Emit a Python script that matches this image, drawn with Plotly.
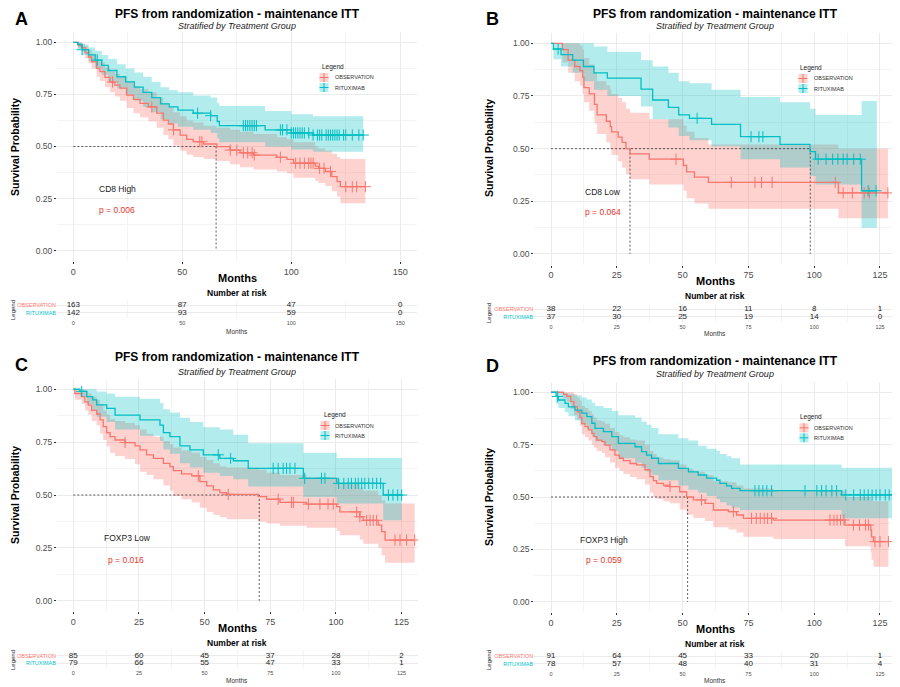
import plotly.graph_objects as go

################################################################################
# Data
################################################################################

groups = ['OBSERVATION', 'RITUXIMAB']

# Panel A - CD8 High
a_obs_t = [0, 2.3, 3.8, 5.4, 6.9, 8.4, 10.7, 12.2, 14.5, 16.8, 19.1, 21.4, 24.5, 27.6, 30.6, 34.4, 38.3, 41.3, 43.6, 45.9,
           49.0, 52.0, 55.0, 59.7, 65.8, 71.9, 76.5, 82.7, 93.4, 98.0, 101.0, 111.0, 112.5, 115.6, 118.6, 121.0, 122.5]
a_obs_s = [1.0, 0.985, 0.975, 0.950, 0.930, 0.907, 0.875, 0.860, 0.832, 0.810, 0.795, 0.780, 0.747, 0.726, 0.707, 0.690, 0.660, 0.627, 0.608, 0.580,
           0.555, 0.534, 0.523, 0.512, 0.499, 0.483, 0.470, 0.459, 0.448, 0.438, 0.420, 0.406, 0.395, 0.380, 0.355, 0.331, 0.307]
a_obs_lo = [1.0, 0.97, 0.955, 0.925, 0.90, 0.875, 0.835, 0.815, 0.785, 0.76, 0.74, 0.72, 0.685, 0.66, 0.64, 0.62, 0.59, 0.555, 0.535, 0.505,
            0.48, 0.46, 0.45, 0.44, 0.43, 0.415, 0.40, 0.39, 0.38, 0.37, 0.35, 0.335, 0.325, 0.31, 0.285, 0.26, 0.227]
a_obs_hi = [1.0, 1.0, 0.995, 0.98, 0.965, 0.945, 0.915, 0.905, 0.88, 0.86, 0.85, 0.835, 0.81, 0.79, 0.775, 0.76, 0.735, 0.71, 0.69, 0.665,
            0.645, 0.625, 0.615, 0.60, 0.59, 0.58, 0.57, 0.56, 0.545, 0.535, 0.52, 0.50, 0.49, 0.48, 0.465, 0.45, 0.44]
a_obs_end = 134
a_obs_cens = [18, 36, 46, 58, 59, 72, 75, 78, 80, 82, 83, 95, 102, 104, 106, 108, 109, 110, 113, 115, 118, 125, 128, 130, 134]

a_rit_t = [0, 2, 4, 7, 10, 13, 16, 20, 24, 28, 32, 36, 40, 44, 48, 55, 63, 66, 67, 88, 100, 110]
a_rit_s = [1.0, 0.99, 0.965, 0.94, 0.915, 0.89, 0.865, 0.835, 0.81, 0.785, 0.76, 0.735, 0.705, 0.69, 0.675, 0.66, 0.648, 0.62, 0.60, 0.58, 0.565, 0.555]
a_rit_lo = [1.0, 0.97, 0.94, 0.91, 0.875, 0.845, 0.815, 0.78, 0.75, 0.72, 0.69, 0.665, 0.63, 0.61, 0.595, 0.58, 0.565, 0.54, 0.52, 0.50, 0.485, 0.475]
a_rit_hi = [1.0, 1.0, 0.99, 0.975, 0.96, 0.94, 0.92, 0.895, 0.875, 0.855, 0.835, 0.81, 0.785, 0.77, 0.76, 0.745, 0.735, 0.71, 0.695, 0.67, 0.655, 0.645]
a_rit_end = 133
a_rit_cens = [4, 11, 57, 63, 78, 79, 80, 81, 82, 83, 84, 95, 96, 98, 100, 101, 102, 103, 104, 105, 106, 108, 110, 112, 113, 114,
              116, 117, 118, 119, 120, 121, 122, 124, 125, 128, 131, 133]

a_medians = [65.5]
a_risk_t = [0, 50, 100, 150]
a_risk_obs = [163, 87, 47, 0]
a_risk_rit = [142, 93, 59, 0]

# Panel B - CD8 Low
b_obs_t = [0, 4.3, 6.5, 9, 11, 12, 12.5, 14.5, 16.5, 17.5, 21, 22.5, 23, 25.5, 27, 28.5, 30, 37.3, 50.3, 51.5, 54.5, 59.8, 109.2]
b_obs_s = [1.0, 0.97, 0.92, 0.89, 0.87, 0.84, 0.79, 0.76, 0.71, 0.66, 0.63, 0.605, 0.58, 0.555, 0.53, 0.50, 0.475, 0.45, 0.42, 0.39, 0.365, 0.34, 0.29]
b_obs_lo = [1.0, 0.91, 0.86, 0.82, 0.80, 0.76, 0.72, 0.68, 0.62, 0.57, 0.53, 0.50, 0.47, 0.44, 0.41, 0.38, 0.355, 0.33, 0.30, 0.265, 0.24, 0.215, 0.17]
b_obs_hi = [1.0, 1.0, 1.0, 1.0, 0.99, 0.97, 0.93, 0.90, 0.86, 0.82, 0.80, 0.78, 0.76, 0.74, 0.72, 0.69, 0.67, 0.64, 0.61, 0.58, 0.55, 0.52, 0.50]
b_obs_end = 128
b_obs_cens = [47.5, 68.5, 77.5, 80, 84, 108, 111, 114.5, 119, 121, 128]

b_rit_t = [0, 0.9, 3.8, 8.2, 12.3, 16.3, 21.4, 34.2, 38.6, 44.6, 48.5, 52.6, 61, 72, 87, 98.4, 100.5, 118]
b_rit_s = [1.0, 0.973, 0.946, 0.92, 0.89, 0.86, 0.835, 0.783, 0.731, 0.696, 0.66, 0.644, 0.615, 0.557, 0.52, 0.486, 0.45, 0.30]
b_rit_lo = [1.0, 0.925, 0.89, 0.86, 0.82, 0.78, 0.75, 0.70, 0.64, 0.60, 0.56, 0.54, 0.51, 0.45, 0.41, 0.37, 0.33, 0.125]
b_rit_hi = [1.0, 1.0, 1.0, 1.0, 1.0, 0.985, 0.96, 0.92, 0.89, 0.86, 0.82, 0.81, 0.78, 0.745, 0.72, 0.69, 0.66, 0.726]
b_rit_end = 123.8
b_rit_cens = [2.7, 55.5, 76, 79, 80.5, 101.5, 104.5, 107, 109, 111, 112.5, 115, 117.5, 120.5, 123.5]

b_medians = [30, 98.5]
b_risk_t = [0, 25, 50, 75, 100, 125]
b_risk_obs = [38, 22, 16, 11, 8, 1]
b_risk_rit = [37, 30, 25, 19, 14, 0]

# Panel C - FOXP3 Low
c_obs_t = [0, 0.6, 3.2, 4.4, 5.7, 7.0, 8.9, 10.2, 11.4, 12.7, 14.0, 15.9, 19.7, 23.5, 25.4, 27.9, 30.5, 34.3, 36.8, 38.1,
           41.2, 45.1, 48.2, 50.8, 53.3, 55.8, 58.4, 70.4, 73.6, 78.7, 88.8, 100.3, 101.5, 109.1, 110.4, 116.1, 117.4, 118.7]
c_obs_s = [1.0, 0.98, 0.965, 0.94, 0.925, 0.90, 0.883, 0.855, 0.823, 0.795, 0.776, 0.76, 0.748, 0.732, 0.713, 0.69, 0.673, 0.65, 0.634, 0.615,
           0.60, 0.59, 0.563, 0.543, 0.524, 0.511, 0.503, 0.492, 0.48, 0.465, 0.457, 0.445, 0.42, 0.397, 0.38, 0.358, 0.327, 0.287]
c_obs_lo = [1.0, 0.95, 0.93, 0.90, 0.88, 0.85, 0.83, 0.79, 0.76, 0.73, 0.70, 0.685, 0.67, 0.645, 0.61, 0.595, 0.575, 0.545, 0.52, 0.495,
            0.48, 0.465, 0.44, 0.42, 0.405, 0.395, 0.385, 0.375, 0.365, 0.355, 0.345, 0.33, 0.31, 0.29, 0.27, 0.25, 0.215, 0.18]
c_obs_hi = [1.0, 1.0, 1.0, 0.99, 0.98, 0.965, 0.95, 0.93, 0.90, 0.88, 0.86, 0.85, 0.84, 0.83, 0.81, 0.79, 0.775, 0.755, 0.74, 0.725,
            0.71, 0.70, 0.68, 0.665, 0.65, 0.635, 0.63, 0.62, 0.605, 0.595, 0.585, 0.575, 0.555, 0.535, 0.52, 0.50, 0.475, 0.46]
c_obs_end = 130
c_obs_cens = [19.7, 47.6, 59, 78, 83.1, 83.8, 89.5, 93.9, 97, 99, 107.9, 109.1, 111.7, 113, 114.2, 115.5, 122.5, 124.4, 126.9, 130]

c_rit_t = [0, 2.5, 5.1, 7.4, 8.9, 12.7, 15.9, 25.4, 33.0, 34.3, 36.8, 40.6, 44.4, 49.5, 55.8, 60.9, 66.6, 87.6, 100.3, 118.0]
c_rit_s = [1.0, 0.99, 0.965, 0.95, 0.926, 0.91, 0.878, 0.855, 0.83, 0.795, 0.776, 0.732, 0.713, 0.69, 0.673, 0.662, 0.626, 0.579, 0.555, 0.50]
c_rit_lo = [1.0, 0.965, 0.93, 0.90, 0.87, 0.845, 0.81, 0.78, 0.755, 0.715, 0.695, 0.65, 0.63, 0.605, 0.59, 0.575, 0.54, 0.49, 0.46, 0.38]
c_rit_hi = [1.0, 1.0, 1.0, 1.0, 0.99, 0.98, 0.965, 0.955, 0.935, 0.905, 0.89, 0.865, 0.845, 0.82, 0.81, 0.785, 0.745, 0.70, 0.675, 0.675]
c_rit_end = 125
c_rit_cens = [3.2, 55.2, 59.9, 76.1, 78, 79.9, 81.2, 82.5, 84.4, 88.1, 94.5, 95.8, 101, 103, 104.7, 105.9, 107.4, 108.5, 109.8,
              111, 112.5, 114, 115.5, 117, 120, 121.7, 123.5, 125]

c_medians = [70.8]
c_risk_t = [0, 25, 50, 75, 100, 125]
c_risk_obs = [85, 60, 45, 37, 28, 2]
c_risk_rit = [79, 66, 55, 47, 33, 1]

# Panel D - FOXP3 High
d_obs_t = [0, 4.7, 6.0, 7.5, 8.7, 10.0, 11.0, 11.7, 12.9, 14.2, 15.5, 16.3, 17.4, 19.3, 20.5, 22.4, 24.3, 26.0, 27.5, 30.0,
           32.5, 35.7, 37.6, 38.9, 40.1, 42.7, 45.2, 48.9, 51.5, 54.1, 58.5, 61.7, 67.4, 70.5, 73.1, 84.5, 111.7, 121.5, 121.8, 122.5]
d_obs_s = [1.0, 0.99, 0.98, 0.955, 0.93, 0.907, 0.88, 0.85, 0.836, 0.82, 0.804, 0.788, 0.772, 0.764, 0.748, 0.725, 0.70, 0.685, 0.674, 0.66,
           0.653, 0.63, 0.597, 0.578, 0.565, 0.557, 0.55, 0.525, 0.50, 0.486, 0.47, 0.438, 0.43, 0.414, 0.398, 0.39, 0.366, 0.342, 0.31, 0.287]
d_obs_lo = [1.0, 0.97, 0.955, 0.92, 0.89, 0.87, 0.84, 0.80, 0.785, 0.77, 0.75, 0.735, 0.72, 0.71, 0.69, 0.665, 0.64, 0.625, 0.61, 0.595,
            0.585, 0.56, 0.52, 0.50, 0.49, 0.48, 0.47, 0.44, 0.415, 0.40, 0.385, 0.355, 0.345, 0.33, 0.31, 0.30, 0.265, 0.235, 0.20, 0.167]
d_obs_hi = [1.0, 1.0, 1.0, 1.0, 0.99, 0.975, 0.96, 0.935, 0.925, 0.91, 0.895, 0.88, 0.865, 0.86, 0.85, 0.83, 0.81, 0.795, 0.785, 0.775,
            0.77, 0.75, 0.72, 0.705, 0.69, 0.68, 0.675, 0.655, 0.635, 0.62, 0.605, 0.575, 0.57, 0.555, 0.54, 0.53, 0.50, 0.49, 0.485, 0.48]
d_obs_end = 128.2
d_obs_cens = [45.2, 57.2, 69.3, 76.2, 78, 79.5, 81, 82.3, 83.8, 106, 107.5, 108.7, 110, 111.3, 114.9, 117.2, 119.5, 120.6, 123.1, 125, 128.2]

d_rit_t = [0, 1.9, 2.8, 5.3, 6.6, 9.1, 11.7, 13.6, 15.5, 16.7, 19.9, 23.1, 25.6, 31.9, 34.4, 36.3, 38.2, 40.8, 48.4, 52.2,
           55.9, 59.1, 62.9, 64.2, 66.7, 68.6, 71.8, 110.4]
d_rit_s = [1.0, 0.98, 0.963, 0.947, 0.93, 0.915, 0.90, 0.884, 0.852, 0.828, 0.812, 0.788, 0.756, 0.74, 0.717, 0.70, 0.685, 0.66, 0.637, 0.62,
           0.605, 0.59, 0.58, 0.565, 0.553, 0.541, 0.53, 0.51]
d_rit_lo = [1.0, 0.945, 0.925, 0.905, 0.885, 0.865, 0.845, 0.825, 0.79, 0.765, 0.745, 0.72, 0.685, 0.665, 0.64, 0.62, 0.605, 0.58, 0.555, 0.535,
            0.52, 0.505, 0.49, 0.475, 0.46, 0.45, 0.438, 0.398]
d_rit_hi = [1.0, 1.0, 1.0, 0.995, 0.99, 0.985, 0.975, 0.965, 0.95, 0.935, 0.925, 0.91, 0.89, 0.88, 0.86, 0.845, 0.83, 0.80, 0.78, 0.77,
            0.745, 0.73, 0.72, 0.705, 0.695, 0.685, 0.655, 0.64]
d_rit_end = 130.7
d_rit_cens = [2.5, 77.5, 79, 80.5, 82, 83.8, 96.5, 101, 102.8, 104.5, 106.7, 108.5, 112, 115, 117.5, 119, 120.5, 122, 123.5,
              125, 127, 128.5, 130.7]

d_medians = [51.9]
d_risk_t = [0, 25, 50, 75, 100, 125]
d_risk_obs = [91, 64, 45, 33, 20, 1]
d_risk_rit = [78, 57, 48, 40, 31, 4]

panel_letters = ['A', 'B', 'C', 'D']
panel_labels = ['CD8 High', 'CD8 Low', 'FOXP3 Low', 'FOXP3 High']
panel_pvalues = ['p = 0.006', 'p = 0.064', 'p = 0.016', 'p = 0.059']
title_text = 'PFS from randomization - maintenance ITT'
subtitle_text = 'Stratified by Treatment Group'

################################################################################
# Styling
################################################################################

# The page body keeps its default 8px margin, so every page position is
# shifted by OFF before it is turned into a paper fraction
OFF = 8
W, H = 900 - OFF, 687 - OFF
RED = '#F8766D'
TEAL = '#00BFC4'
RED_BAND = 'rgba(248,118,109,0.33)'
TEAL_BAND = 'rgba(0,191,196,0.30)'
GRID = '#EBEBEB'
MINOR = '#F4F4F4'
TICK = '#4D4D4D'
FONT = 'Liberation Sans, Arial, sans-serif'


def fx(x):
    return (x - OFF) / W


def fy(y):
    return 1 - (y - OFF) / H


def step_at(t, s, x):
    # survival value of a step curve at time x
    v = s[0]
    for ti, si in zip(t, s):
        if ti <= x:
            v = si
    return v


# Layout of each panel in page pixels
panels = [
    dict(km='', rk='2', xr=[-7.5, 157.5], dt=50, xd=[57, 416.6], yd=[32, 261], rd=[299.6, 318.1],
         data=[(a_obs_t, a_obs_s, a_obs_lo, a_obs_hi, a_obs_end, a_obs_cens),
               (a_rit_t, a_rit_s, a_rit_lo, a_rit_hi, a_rit_end, a_rit_cens)],
         med=a_medians, risk=(a_risk_t, a_risk_obs, a_risk_rit),
         letter=(21, 19), title=(237, 14.5), sub=(237, 26), ylab=(15, 147),
         months=(237, 278), nar=(237, 293), leg=(13, 310), months2=(237, 331),
         lab=(117, 189), pv=(117, 210), legend=(320, 67, 324, 333)),
    dict(km='3', rk='4', xr=[-6.4, 131.5], dt=25, xd=[534.2, 897.1], yd=[32.8, 264.5], rd=[303.6, 322.1],
         data=[(b_obs_t, b_obs_s, b_obs_lo, b_obs_hi, b_obs_end, b_obs_cens),
               (b_rit_t, b_rit_s, b_rit_lo, b_rit_hi, b_rit_end, b_rit_cens)],
         med=b_medians, risk=(b_risk_t, b_risk_obs, b_risk_rit),
         letter=(493, 19), title=(715, 14.5), sub=(715, 26), ylab=(489, 148),
         months=(715, 281), nar=(715, 296), leg=(489, 313), months2=(715, 333),
         lab=(603, 192), pv=(603, 212), legend=(798, 68, 803, 812)),
    dict(km='5', rk='6', xr=[-6.25, 131.25], dt=25, xd=[56.9, 418], yd=[378.7, 611.3], rd=[650.3, 668.8],
         data=[(c_obs_t, c_obs_s, c_obs_lo, c_obs_hi, c_obs_end, c_obs_cens),
               (c_rit_t, c_rit_s, c_rit_lo, c_rit_hi, c_rit_end, c_rit_cens)],
         med=c_medians, risk=(c_risk_t, c_risk_obs, c_risk_rit),
         letter=(21, 365), title=(237, 357.5), sub=(237, 371.7), ylab=(15, 495),
         months=(237, 628.3), nar=(237, 643.3), leg=(13, 660), months2=(237, 680),
         lab=(127, 538), pv=(126, 559.5), legend=(322, 415, 325, 333)),
    dict(km='7', rk='8', xr=[-6.4, 131.5], dt=25, xd=[534.2, 897.1], yd=[381.8, 612.2], rd=[650.6, 669.1],
         data=[(d_obs_t, d_obs_s, d_obs_lo, d_obs_hi, d_obs_end, d_obs_cens),
               (d_rit_t, d_rit_s, d_rit_lo, d_rit_hi, d_rit_end, d_rit_cens)],
         med=d_medians, risk=(d_risk_t, d_risk_obs, d_risk_rit),
         letter=(493, 366), title=(715, 360.7), sub=(715, 374), ylab=(489, 497),
         months=(715, 629.3), nar=(715, 644), leg=(489, 660), months2=(715, 680),
         lab=(604, 540), pv=(604, 560), legend=(798, 417.3, 804, 812)),
]

fig = go.Figure()
annotations = []
shapes = []
layout_axes = {}


def note(text, xy, size, color='#1A1A1A', angle=0, xanchor='center'):
    annotations.append(dict(text=text, x=fx(xy[0]), y=fy(xy[1]), xref='paper', yref='paper',
                            showarrow=False, xanchor=xanchor, yanchor='middle', textangle=angle,
                            font=dict(family=FONT, size=size, color=color)))


for i, p in enumerate(panels):
    kx, ky = 'x' + p['km'], 'y' + p['km']
    rx, ry = 'x' + p['rk'], 'y' + p['rk']

    # Confidence bands first, then lines, then censor marks
    for (t, s, lo, hi, end, cens), band in zip(p['data'], [RED_BAND, TEAL_BAND]):
        fig.add_trace(go.Scatter(x=t + [end], y=lo + [lo[-1]], xaxis=kx, yaxis=ky, mode='lines',
                                 line=dict(width=0, shape='hv'), showlegend=False, hoverinfo='skip'))
        fig.add_trace(go.Scatter(x=t + [end], y=hi + [hi[-1]], xaxis=kx, yaxis=ky, mode='lines',
                                 line=dict(width=0, shape='hv'), fill='tonexty', fillcolor=band,
                                 showlegend=False, hoverinfo='skip'))

    # Median reference lines
    m_max = max(p['med'])
    fig.add_trace(go.Scatter(x=[0, m_max], y=[0.5, 0.5], xaxis=kx, yaxis=ky, mode='lines',
                             line=dict(color='#333333', width=0.8, dash='2px,2px'),
                             showlegend=False, hoverinfo='skip'))
    for m in p['med']:
        fig.add_trace(go.Scatter(x=[m, m], y=[0.5, 0], xaxis=kx, yaxis=ky, mode='lines',
                                 line=dict(color='#333333', width=0.8, dash='2px,2px'),
                                 showlegend=False, hoverinfo='skip'))

    for (t, s, lo, hi, end, cens), col, name in zip(p['data'], [RED, TEAL], groups):
        fig.add_trace(go.Scatter(x=t + [end], y=s + [s[-1]], xaxis=kx, yaxis=ky, mode='lines',
                                 line=dict(color=col, width=1.3, shape='hv'), name=name,
                                 showlegend=False))
        fig.add_trace(go.Scatter(x=cens, y=[step_at(t, s, c) for c in cens], xaxis=kx, yaxis=ky,
                                 mode='markers', showlegend=False, hoverinfo='skip',
                                 marker=dict(symbol='cross-thin', size=8, line=dict(width=1, color=col))))

    # Number at risk table
    rt, robs, rrit = p['risk']
    fig.add_trace(go.Scatter(x=rt, y=[2] * len(rt), xaxis=rx, yaxis=ry, mode='text', text=[str(v) for v in robs],
                             textfont=dict(family=FONT, size=8, color='#1A1A1A'), showlegend=False, hoverinfo='skip'))
    fig.add_trace(go.Scatter(x=rt, y=[1] * len(rt), xaxis=rx, yaxis=ry, mode='text', text=[str(v) for v in rrit],
                             textfont=dict(family=FONT, size=8, color='#1A1A1A'), showlegend=False, hoverinfo='skip'))

    xdom = [fx(p['xd'][0]), fx(p['xd'][1])]
    common_x = dict(domain=xdom, range=p['xr'], tick0=0, dtick=p['dt'], showgrid=True, gridcolor=GRID,
                    gridwidth=1, zeroline=False, showline=False,
                    minor=dict(tick0=0, dtick=p['dt'] / 2, showgrid=True, gridcolor=MINOR, gridwidth=1))
    layout_axes['xaxis' + p['km']] = dict(common_x, anchor=ky, ticks='outside', ticklen=2, tickcolor='#333333',
                                          tickfont=dict(family=FONT, size=9, color=TICK))
    layout_axes['yaxis' + p['km']] = dict(domain=[fy(p['yd'][1]), fy(p['yd'][0])], range=[-0.05, 1.05], anchor=kx,
                                          tick0=0, dtick=0.25, tickformat='.2f', showgrid=True, gridcolor=GRID,
                                          zeroline=False, showline=False, ticks='outside', ticklen=2,
                                          tickcolor='#333333', tickfont=dict(family=FONT, size=8.5, color=TICK),
                                          minor=dict(tick0=0, dtick=0.125, showgrid=True, gridcolor=MINOR))
    layout_axes['xaxis' + p['rk']] = dict(common_x, anchor=ry, ticks='', tickfont=dict(family=FONT, size=5.5, color=TICK))
    layout_axes['yaxis' + p['rk']] = dict(domain=[fy(p['rd'][1]), fy(p['rd'][0])], range=[0.3, 2.7], anchor=rx,
                                          tickvals=[2, 1],
                                          ticktext=['<span style="color:%s">%s</span>' % (RED, groups[0]),
                                                    '<span style="color:%s">%s</span>' % (TEAL, groups[1])],
                                          showgrid=True, gridcolor=GRID, zeroline=False, showline=False, ticks='',
                                          tickfont=dict(family=FONT, size=5.5))

    # Texts
    note('<b>%s</b>' % panel_letters[i], p['letter'], 18, '#000000')
    note('<b>%s</b>' % title_text, p['title'], 12, '#000000')
    note('<i>%s</i>' % subtitle_text, p['sub'], 9, '#1A1A1A')
    note('<b>Survival Probability</b>', p['ylab'], 10.5, '#000000', angle=-90)
    note('<b>Months</b>', p['months'], 11, '#000000')
    note('<b>Number at risk</b>', p['nar'], 8.5, '#000000')
    note('Legend', p['leg'], 6, '#1A1A1A', angle=-90)
    note('Months', p['months2'], 6.5, '#333333')
    note(panel_labels[i], p['lab'], 8.5, '#1A1A1A')
    note(panel_pvalues[i], p['pv'], 8.5, '#E8332A')

    # Hand drawn legend (title + two keys)
    lx, ly, kcx, tx = p['legend']
    note('Legend', (lx, ly), 6.5, '#1A1A1A', xanchor='left')
    for j, (name, col, band) in enumerate(zip(groups, [RED, TEAL], [RED_BAND, TEAL_BAND])):
        kcy = ly + 10.5 + j * 10
        shapes.append(dict(type='rect', xref='paper', yref='paper', x0=fx(kcx - 4.5), x1=fx(kcx + 4.5),
                           y0=fy(kcy + 4.5), y1=fy(kcy - 4.5), fillcolor=band, line=dict(width=0)))
        shapes.append(dict(type='line', xref='paper', yref='paper', x0=fx(kcx - 4.5), x1=fx(kcx + 4.5),
                           y0=fy(kcy), y1=fy(kcy), line=dict(color=col, width=1)))
        shapes.append(dict(type='line', xref='paper', yref='paper', x0=fx(kcx), x1=fx(kcx),
                           y0=fy(kcy + 4.5), y1=fy(kcy - 4.5), line=dict(color=col, width=1)))
        note(name, (tx, kcy), 5.5, '#333333', xanchor='left')

fig.update_layout(width=W, height=H, margin=dict(l=0, r=0, t=0, b=0),
                  plot_bgcolor='#FFFFFF', paper_bgcolor='#FFFFFF', showlegend=False,
                  font=dict(family=FONT), annotations=annotations, shapes=shapes, **layout_axes)

fig.write_html("out.html")
